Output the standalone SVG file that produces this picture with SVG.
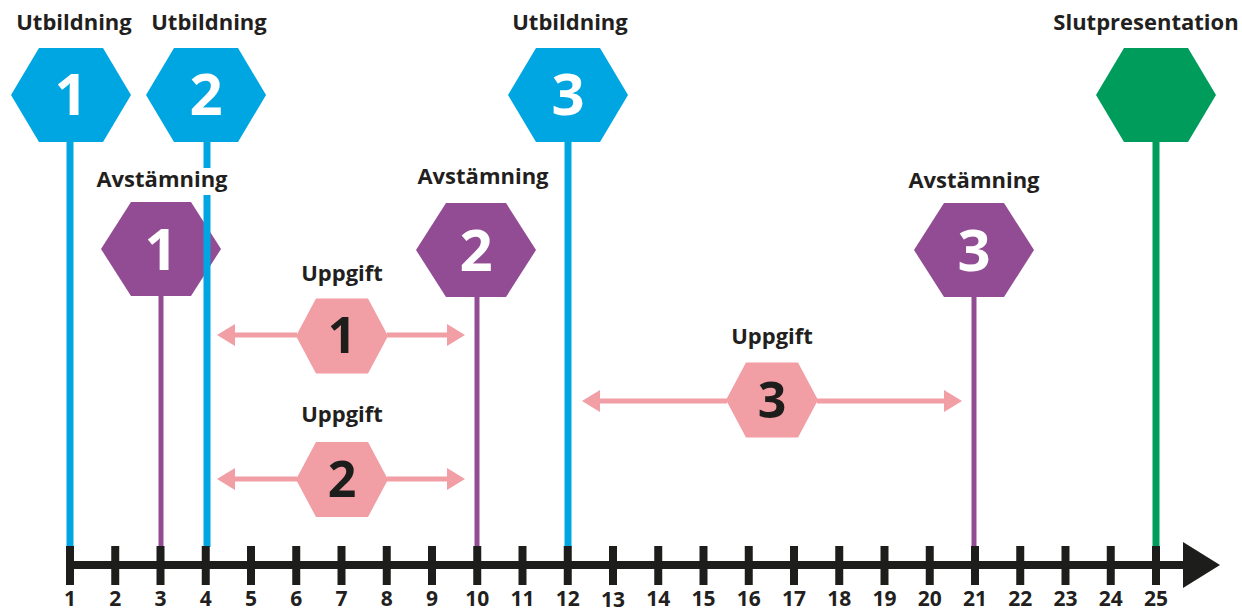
<svg xmlns="http://www.w3.org/2000/svg" width="1242" height="613" viewBox="0 0 1242 613">
<style>
.lbl{font-family:"Open Sans","Liberation Sans",sans-serif;font-weight:700;font-size:22px;fill:#231f20;text-anchor:middle}
.num{font-family:"Open Sans","Liberation Sans",sans-serif;font-weight:700;font-size:58px;fill:#ffffff;text-anchor:middle}
.pnum{font-family:"Open Sans","Liberation Sans",sans-serif;font-weight:700;font-size:50px;fill:#1d1d1b;text-anchor:middle}
.ax{font-family:"Open Sans","Liberation Sans",sans-serif;font-weight:700;font-size:21px;fill:#231f20;text-anchor:middle}
.blue{fill:#00a6e2}.purple{fill:#924c94}.green{fill:#009c5b}.pink{fill:#f19ea5}
.sb{stroke:#00a6e2;stroke-width:7;fill:none}
.sp{stroke:#924c94;stroke-width:5;fill:none}
.sg{stroke:#009c5b;stroke-width:7;fill:none}
.pa{stroke:#f19ea5;stroke-width:5;fill:none;marker-end:url(#ah)}
.tick{stroke:#1d1d1b;stroke-width:8}
</style>
<defs>
<marker id="ah" viewBox="0 0 18 22" refX="8" refY="11" markerWidth="18" markerHeight="22" orient="auto" markerUnits="userSpaceOnUse">
<path d="M0,0 L18,11 L0,22 Z" fill="#f19ea5"/>
</marker>
</defs>
<rect width="1242" height="613" fill="#ffffff"/>

<g id="utbildning1">
<polygon class="blue" points="11,95 39,48 103,48 131,95 103,142 39,142"/>
<text class="num" x="71" y="115">1</text>
<text class="lbl" x="74" y="30">Utbildning</text>
</g>
<g id="utbildning2">
<polygon class="blue" points="146,95 174,48 238,48 266,95 238,142 174,142"/>
<text class="num" x="206" y="115">2</text>
<text class="lbl" x="209" y="30">Utbildning</text>
</g>
<g id="utbildning3">
<polygon class="blue" points="508,95 536,48 600,48 628,95 600,142 536,142"/>
<text class="num" x="568" y="115">3</text>
<text class="lbl" x="570" y="30">Utbildning</text>
</g>
<g id="slutpresentation">
<polygon class="green" points="1096,95 1124,48 1188,48 1216,95 1188,142 1124,142"/>
<text class="lbl" x="1146" y="30">Slutpresentation</text>
</g>
<g id="avstamning1">
<polygon class="purple" points="101,249 131,202 191,202 221,249 191,296 131,296"/>
<text class="num" x="161" y="270">1</text>
<text class="lbl" x="162" y="187">Avstämning</text>
</g>
<g id="avstamning2">
<polygon class="purple" points="416,250 446,203 506,203 536,250 506,297 446,297"/>
<text class="num" x="476" y="271">2</text>
<text class="lbl" x="483" y="184">Avstämning</text>
</g>
<g id="avstamning3">
<polygon class="purple" points="914,250 944,203 1004,203 1034,250 1004,297 944,297"/>
<text class="num" x="974" y="271">3</text>
<text class="lbl" x="974" y="188">Avstämning</text>
</g>
<g id="uppgift1">
<polygon class="pink" points="296,336 316,298.5 368,298.5 388,336 368,373.5 316,373.5"/>
<text class="pnum" x="342" y="353">1</text>
<text class="lbl" x="342" y="281">Uppgift</text>
</g>
<g id="uppgift2">
<polygon class="pink" points="296,479.5 316,442 368,442 388,479.5 368,517 316,517"/>
<text class="pnum" x="342" y="497">2</text>
<text class="lbl" x="342" y="422">Uppgift</text>
</g>
<g id="uppgift3">
<polygon class="pink" points="726,400 746,362.5 798,362.5 818,400 798,437.5 746,437.5"/>
<text class="pnum" x="772" y="418">3</text>
<text class="lbl" x="772" y="344">Uppgift</text>
</g>

<g id="connectors">
<line class="sb" x1="70" y1="141" x2="70" y2="547"/>
<line class="sb" x1="207" y1="141" x2="207" y2="168"/>
<line class="sb" x1="207" y1="195" x2="207" y2="547"/>
<line class="sb" x1="568" y1="141" x2="568" y2="547"/>
<line class="sg" x1="1156" y1="141" x2="1156" y2="547"/>
<line class="sp" x1="161" y1="295" x2="161" y2="547"/>
<line class="sp" x1="477" y1="296" x2="477" y2="547"/>
<line class="sp" x1="974" y1="296" x2="974" y2="547"/>
<line class="pa" x1="297" y1="335" x2="227" y2="335"/>
<line class="pa" x1="387" y1="335" x2="455" y2="335"/>
<line class="pa" x1="297" y1="479" x2="227" y2="479"/>
<line class="pa" x1="387" y1="479" x2="455" y2="479"/>
<line class="pa" x1="727" y1="401" x2="592" y2="401"/>
<line class="pa" x1="817" y1="401" x2="952" y2="401"/>
</g>

<g id="axis">
<line x1="66" y1="565" x2="1190" y2="565" stroke="#1d1d1b" stroke-width="8"/>
<polygon points="1183,542 1220,565 1183,588" fill="#1d1d1b"/>
<g class="tick">
<line x1="70" y1="546" x2="70" y2="585"/><line x1="115.25" y1="546" x2="115.25" y2="585"/><line x1="160.5" y1="546" x2="160.5" y2="585"/><line x1="205.75" y1="546" x2="205.75" y2="585"/><line x1="251" y1="546" x2="251" y2="585"/><line x1="296.25" y1="546" x2="296.25" y2="585"/><line x1="341.5" y1="546" x2="341.5" y2="585"/><line x1="386.75" y1="546" x2="386.75" y2="585"/><line x1="432" y1="546" x2="432" y2="585"/><line x1="477.25" y1="546" x2="477.25" y2="585"/><line x1="522.5" y1="546" x2="522.5" y2="585"/><line x1="567.75" y1="546" x2="567.75" y2="585"/><line x1="613" y1="546" x2="613" y2="585"/><line x1="658.25" y1="546" x2="658.25" y2="585"/><line x1="703.5" y1="546" x2="703.5" y2="585"/><line x1="748.75" y1="546" x2="748.75" y2="585"/><line x1="794" y1="546" x2="794" y2="585"/><line x1="839.25" y1="546" x2="839.25" y2="585"/><line x1="884.5" y1="546" x2="884.5" y2="585"/><line x1="929.75" y1="546" x2="929.75" y2="585"/><line x1="975" y1="546" x2="975" y2="585"/><line x1="1020.25" y1="546" x2="1020.25" y2="585"/><line x1="1065.5" y1="546" x2="1065.5" y2="585"/><line x1="1110.75" y1="546" x2="1110.75" y2="585"/><line x1="1156" y1="546" x2="1156" y2="585"/>
</g>
<text class="ax" x="70" y="606">1</text><text class="ax" x="115.25" y="606">2</text><text class="ax" x="160.5" y="606">3</text><text class="ax" x="205.75" y="606">4</text><text class="ax" x="251" y="606">5</text><text class="ax" x="296.25" y="606">6</text><text class="ax" x="341.5" y="606">7</text><text class="ax" x="386.75" y="606">8</text><text class="ax" x="432" y="606">9</text><text class="ax" x="477.25" y="606">10</text><text class="ax" x="522.5" y="606">11</text><text class="ax" x="567.75" y="606">12</text><text class="ax" x="613" y="607">13</text><text class="ax" x="658.25" y="606">14</text><text class="ax" x="703.5" y="606">15</text><text class="ax" x="748.75" y="606">16</text><text class="ax" x="794" y="606">17</text><text class="ax" x="839.25" y="606">18</text><text class="ax" x="884.5" y="606">19</text><text class="ax" x="929.75" y="606">20</text><text class="ax" x="975" y="606">21</text><text class="ax" x="1020.25" y="606">22</text><text class="ax" x="1065.5" y="606">23</text><text class="ax" x="1110.75" y="606">24</text><text class="ax" x="1156" y="606">25</text>
</g>
</svg>
